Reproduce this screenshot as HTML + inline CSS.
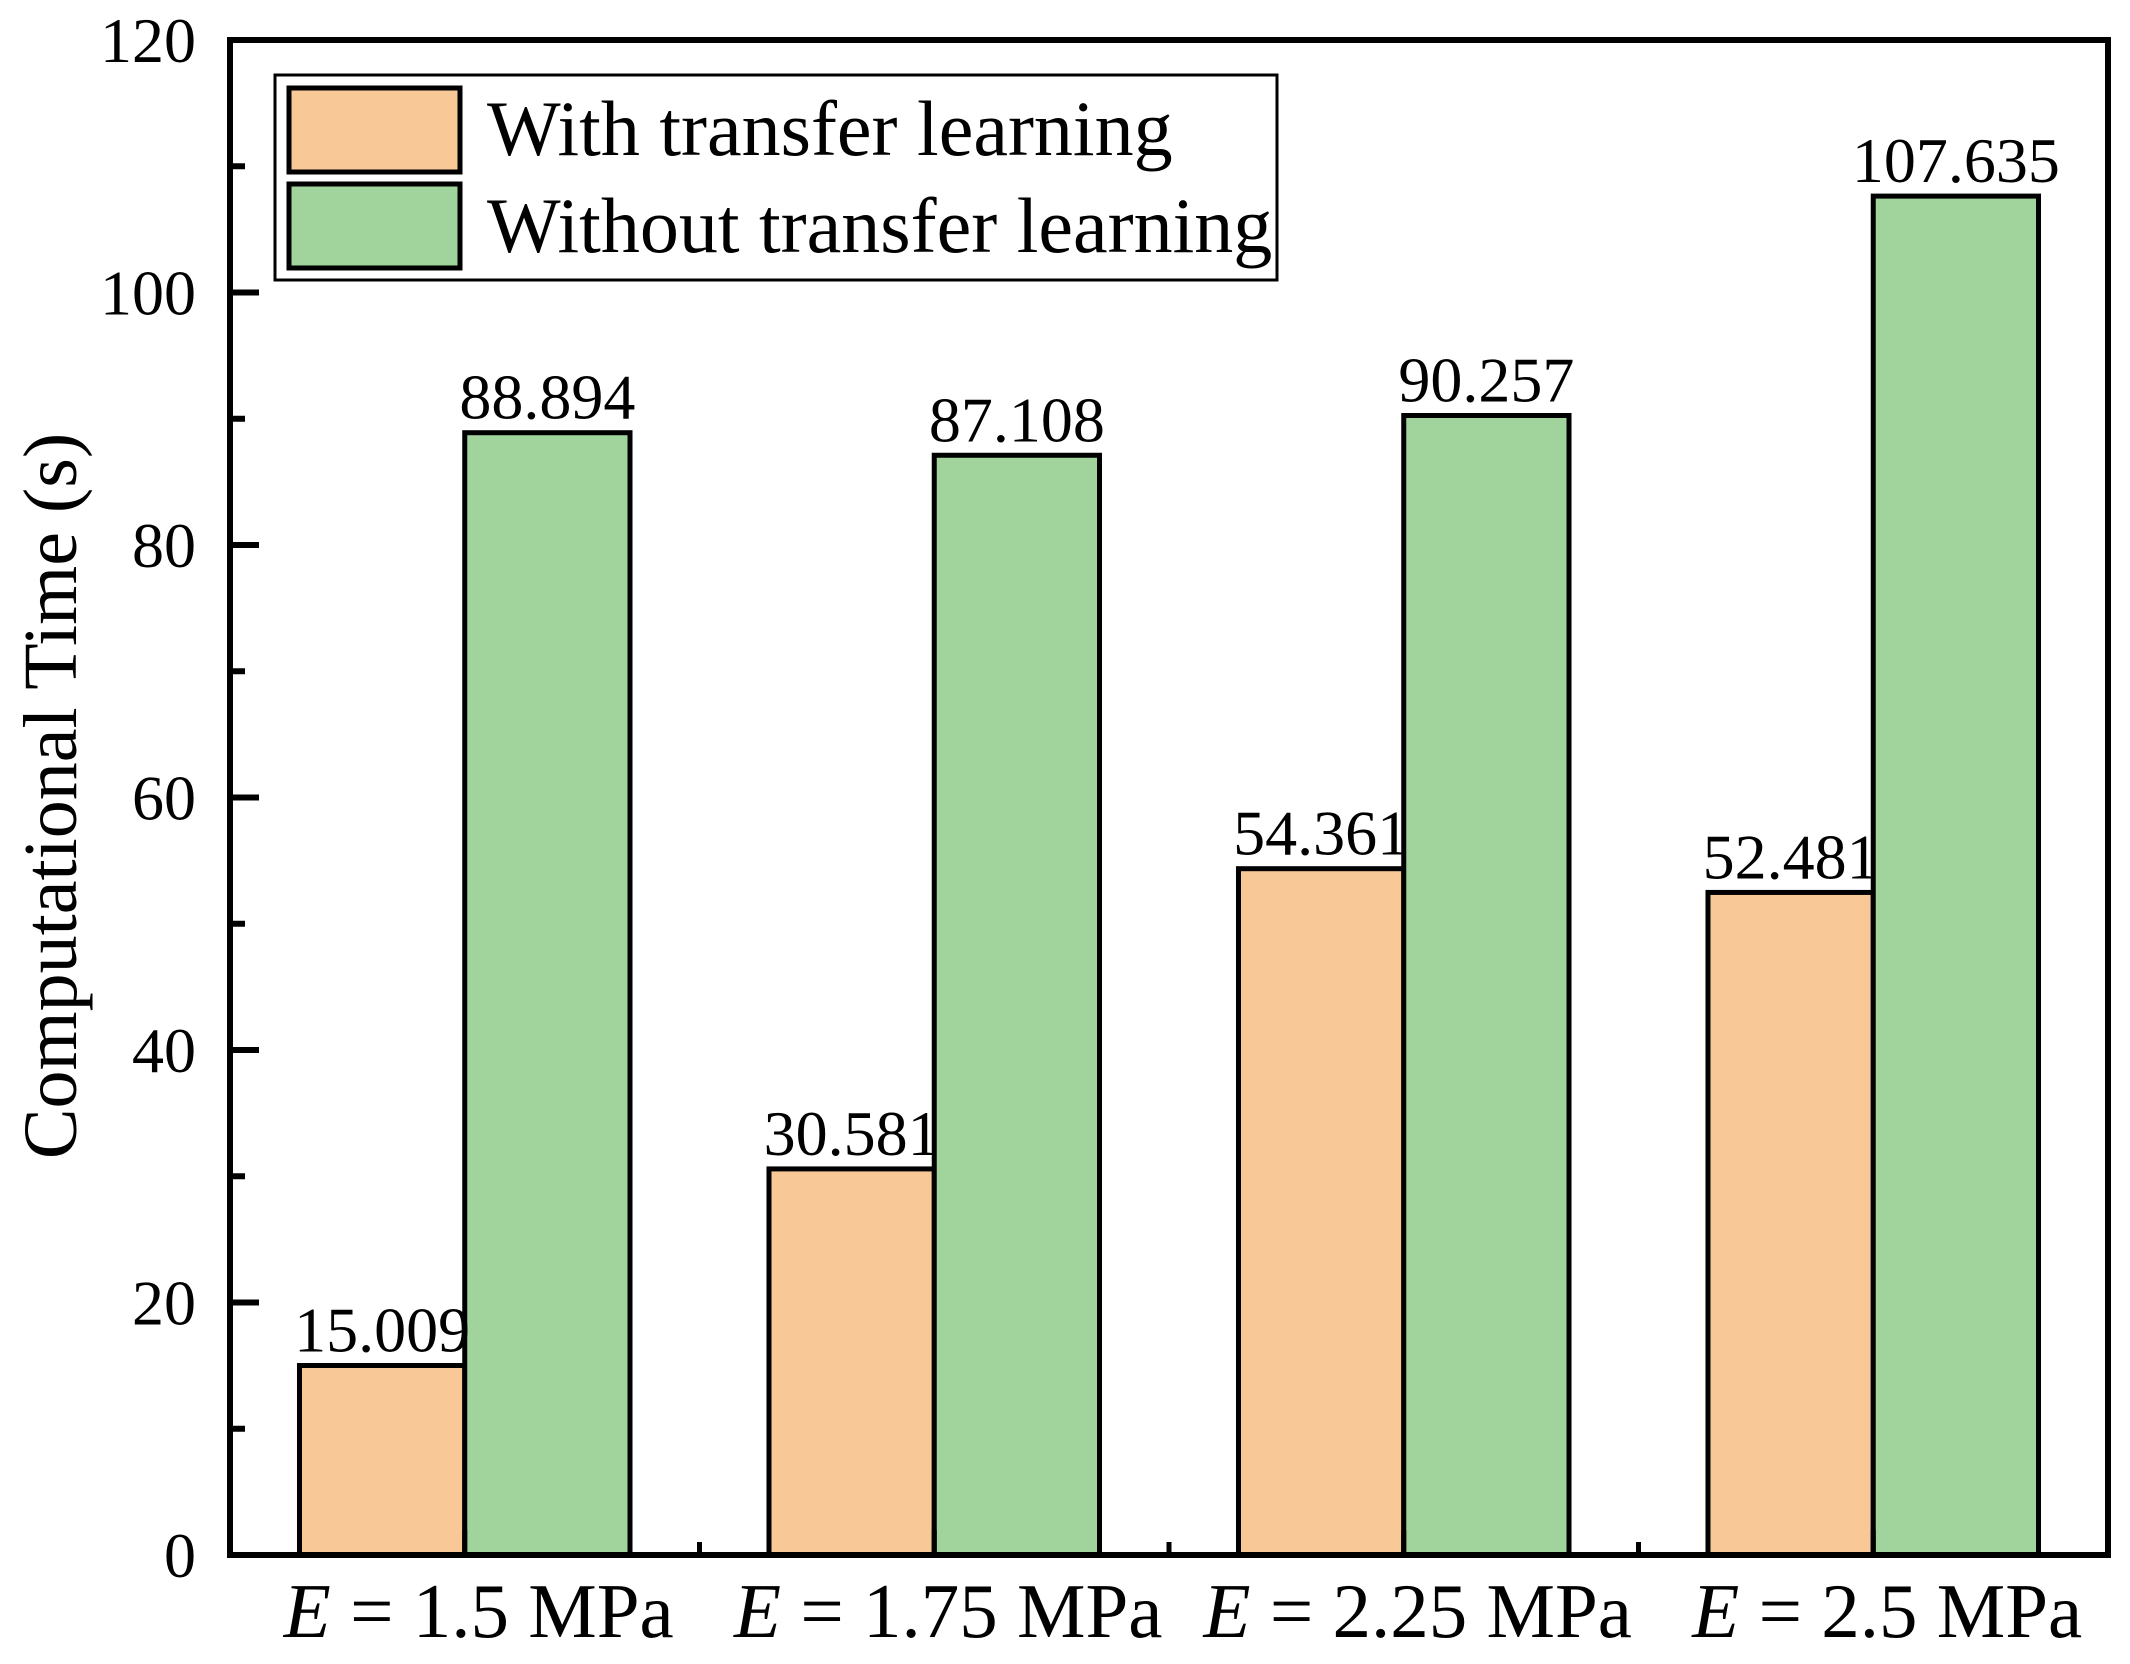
<!DOCTYPE html>
<html><head><meta charset="utf-8"><style>
html,body{margin:0;padding:0;background:#fff;}
svg{display:block;font-family:"Liberation Serif",serif;}
</style></head><body>
<svg id="chart" width="2130" height="1664" viewBox="0 0 2130 1664" xmlns="http://www.w3.org/2000/svg">
<g id="marks"></g>
</svg>
<script>
const categories = ["1.5", "1.75", "2.25", "2.5"];
const withTL = [15.009, 30.581, 54.361, 52.481];
const withoutTL = [88.894, 87.108, 90.257, 107.635];
const valueLabelsWith = ["15.009", "30.581", "54.361", "52.481"];
const valueLabelsWithout = ["88.894", "87.108", "90.257", "107.635"];
const yTicks = [0, 20, 40, 60, 80, 100, 120];
const yMinorTicks = [10, 30, 50, 70, 90, 110];

const NS = "http://www.w3.org/2000/svg";
const L = 230, R = 2108, T = 40, B = 1555;
const yMax = 120;
const y = v => B - (v / yMax) * (B - T);
const band = (R - L) / categories.length;
const xc = i => L + band * (i + 0.5);
const bw = band * 0.352;
const g = document.getElementById('marks');
function mk(tag, attrs, parent) {
  const e = document.createElementNS(NS, tag);
  for (const k in attrs) e.setAttribute(k, attrs[k]);
  (parent || g).appendChild(e);
  return e;
}
categories.forEach((c, i) => {
  const x0 = xc(i);
  const b1 = mk('rect', {x: x0 - bw, y: y(withTL[i]), width: bw, height: B - y(withTL[i]), fill: '#F9C897', stroke: '#000', 'stroke-width': 5});
  
  
  const b2 = mk('rect', {x: x0, y: y(withoutTL[i]), width: bw, height: B - y(withoutTL[i]), fill: '#A0D49C', stroke: '#000', 'stroke-width': 5});
  
  
  const t1 = mk('text', {x: x0 - bw / 2, y: y(withTL[i]) - 14, 'font-size': 64, 'text-anchor': 'middle'});
  t1.textContent = valueLabelsWith[i];
  
  
  const t2 = mk('text', {x: x0 + bw / 2, y: y(withoutTL[i]) - 14, 'font-size': 64, 'text-anchor': 'middle'});
  t2.textContent = valueLabelsWithout[i];
  
  
  const xl = mk('text', {x: x0 + 14, y: 1637, 'font-size': 77, 'text-anchor': 'middle'});
  
  
  const ts = document.createElementNS(NS, 'tspan');
  ts.setAttribute('font-style', 'italic');
  ts.textContent = 'E';
  xl.appendChild(ts);
  xl.appendChild(document.createTextNode(' = ' + c + ' MPa'));
  mk('line', {x1: x0, x2: x0, y1: B, y2: B - 25, stroke: '#000', 'stroke-width': 5});
  if (i > 0) mk('line', {x1: L + band * i, x2: L + band * i, y1: B, y2: B - 13, stroke: '#000', 'stroke-width': 5});
});
yTicks.forEach(v => {
  mk('line', {x1: L, x2: L + 29, y1: y(v), y2: y(v), stroke: '#000', 'stroke-width': 6});
  const t = mk('text', {x: 196, y: y(v) + 22, 'font-size': 64, 'text-anchor': 'end'});
  t.textContent = v;
  
  
});
yMinorTicks.forEach(v => {
  mk('line', {x1: L, x2: L + 15, y1: y(v), y2: y(v), stroke: '#000', 'stroke-width': 6});
});
const fr = mk('rect', {x: L, y: T, width: R - L, height: B - T, fill: 'none', stroke: '#000', 'stroke-width': 6});


const yt = mk('text', {x: 0, y: 0, 'font-size': 76, 'text-anchor': 'middle', transform: 'translate(76,796) rotate(-90)'});
yt.textContent = 'Computational Time (s)';


const lg = mk('g', {});


mk('rect', {x: 275, y: 75, width: 1002, height: 205, fill: '#fff', stroke: '#000', 'stroke-width': 3}, lg);
mk('rect', {x: 289, y: 88, width: 171, height: 84, fill: '#F9C897', stroke: '#000', 'stroke-width': 5}, lg);
mk('rect', {x: 289, y: 184, width: 171, height: 84, fill: '#A0D49C', stroke: '#000', 'stroke-width': 5}, lg);
const l1 = mk('text', {x: 487, y: 155, 'font-size': 78}, lg);
l1.textContent = 'With transfer learning';


const l2 = mk('text', {x: 487, y: 252, 'font-size': 78}, lg);
l2.textContent = 'Without transfer learning';


</script>
</body></html>
